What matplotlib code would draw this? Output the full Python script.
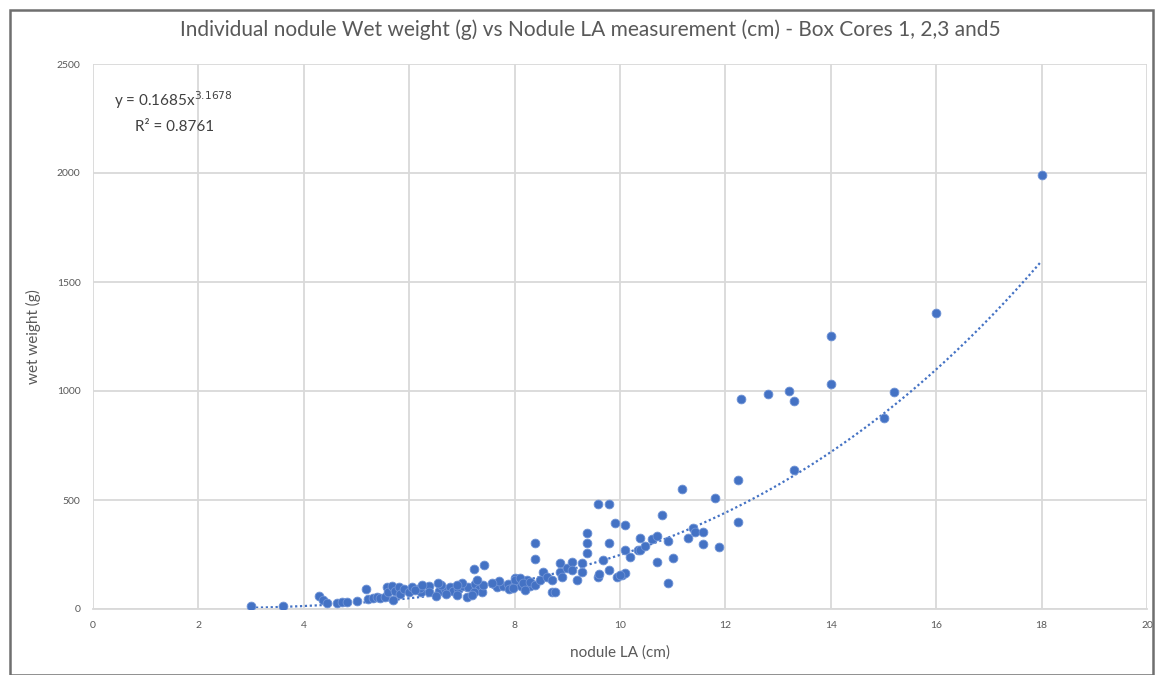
import numpy as np
import matplotlib
matplotlib.use("Agg")
import matplotlib.pyplot as plt
from matplotlib.patches import Rectangle

plt.rcParams['font.family'] = ['Lato', 'DejaVu Sans']

# nodule LA (cm) and wet weight (g)
la_cm = [
    3.0, 3.6, 4.29, 4.36, 4.44, 4.63, 4.72, 4.82, 5.0, 5.18, 5.22, 5.31, 5.39, 5.45,
    5.54, 5.58, 5.6, 5.69, 5.73,
    5.67, 5.73, 5.81, 5.83, 5.9, 6.0, 6.05, 6.22, 6.38, 6.38, 6.57, 6.68, 6.77, 6.83,
    6.93, 7.02, 7.12, 7.23, 7.42, 7.25, 7.32, 7.38, 7.23, 7.61, 7.67, 7.78, 7.87,
    7.97, 8.06, 8.12, 8.24, 8.29,
    6.5, 6.7, 6.9, 7.1, 7.0, 6.2, 6.6, 6.9, 7.4, 7.7, 7.9, 8.0, 6.11, 6.24, 6.55,
    7.57, 7.29, 7.19,
    8.01, 8.10, 7.97, 8.16, 8.20, 8.29, 8.39, 8.39, 8.39, 8.48, 8.54, 8.61, 8.71,
    8.71, 8.77, 8.86, 8.86, 8.90, 8.99, 9.09, 9.09, 9.18, 9.28, 9.28, 9.37, 9.37,
    9.37, 9.58, 9.79, 9.58, 9.60, 9.68, 9.79, 9.79, 9.91, 10.09, 9.94, 10.04, 10.09,
    10.09, 10.19, 10.34,
    11.18, 11.8, 10.80, 10.38, 10.61, 10.70, 10.91, 11.39, 11.42, 11.29, 11.57,
    11.57, 11.88, 10.38, 10.47, 10.0, 10.70, 11.0, 10.91, 12.24, 12.24,
    12.30, 12.81, 13.21, 13.30, 13.30,
    14.0, 14.0, 15.0, 15.2, 16.0, 18.0,
]
wet_g = [
    15, 15, 60, 41, 28, 28, 32, 32, 37, 92, 46, 50, 55, 50,
    55, 100, 78, 41, 87,
    105, 83, 101, 69, 92, 78, 101, 78, 105, 78, 83, 92, 101, 83,
    92, 105, 101, 183, 202, 115, 92, 78, 78, 115, 101, 105, 115,
    101, 124, 105, 133, 105,
    60, 70, 65, 55, 120, 95, 110, 110, 110, 130, 90, 140, 87, 110, 119,
    119, 133, 64,
    133, 142, 96, 119, 87, 124, 110, 303, 229, 133, 170, 147, 133,
    78, 78, 211, 170, 147, 188, 216, 179, 133, 211, 170, 349, 303,
    257, 482, 482, 147, 160, 225, 303, 179, 394, 385, 147, 156, 165,
    271, 239, 271,
    550, 509, 431, 326, 321, 335, 312, 372, 353, 326, 353,
    298, 284, 271, 289, 156, 216, 234, 119, 592, 399,
    963, 986, 1000, 954, 638,
    1252, 1032, 876, 995, 1358, 1990,
]

# power trendline shown on the chart
coef_a = 0.1685
coef_b = 3.1678

blue = '#4472C4'
grey_text = '#595959'

fig = plt.figure(figsize=(11.56, 6.75), dpi=100)
fig.patches.append(Rectangle((10 / 1156, 0.0), 1143 / 1156, 665 / 675,
                             transform=fig.transFigure, fill=False,
                             edgecolor='#6f6f6f', linewidth=1.8))

ax = fig.add_axes([93 / 1156, 1 - 609 / 675, 1054 / 1156, 545 / 675])

ax.scatter(la_cm, wet_g, s=40, color=blue, edgecolors='#6f93d6',
           linewidths=0.6, zorder=3)

xt = np.linspace(min(la_cm), max(la_cm), 200)
ax.plot(xt, coef_a * xt ** coef_b, color=blue, linestyle=(0, (1, 1.2)),
        linewidth=1.6, zorder=2)

ax.set_xlim(0, 20)
ax.set_ylim(0, 2500)
ax.set_xticks(range(0, 21, 2))
ax.set_yticks(range(0, 2501, 500))
ax.grid(True, color='#d9d9d9', linewidth=1.3)
ax.set_axisbelow(True)
for s in ['top', 'right', 'left']:
    ax.spines[s].set_visible(False)
ax.spines['bottom'].set_color('#d9d9d9')
ax.spines['bottom'].set_linewidth(1.3)
ax.tick_params(length=0, labelsize=7.5, labelcolor=grey_text, pad=9)

ax.set_xlabel('nodule LA (cm)', fontsize=11, color=grey_text, labelpad=11)
ax.set_ylabel('wet weight (g)', fontsize=11, color=grey_text, labelpad=11)

fig.text(0.511, 1 - 30 / 675, 'Individual nodule Wet weight (g) vs Nodule LA measurement (cm) - Box Cores 1, 2,3 and5',
         ha='center', va='center', fontsize=15, color=grey_text)

ax.text(0.02, 0.933, r'y = 0.1685x$^{3.1678}$', transform=ax.transAxes,
        fontsize=11, color='#404040', va='center')
ax.text(0.04, 0.885, 'R² = 0.8761', transform=ax.transAxes,
        fontsize=11, color='#404040', va='center')

fig.savefig('out.png', dpi=100)
